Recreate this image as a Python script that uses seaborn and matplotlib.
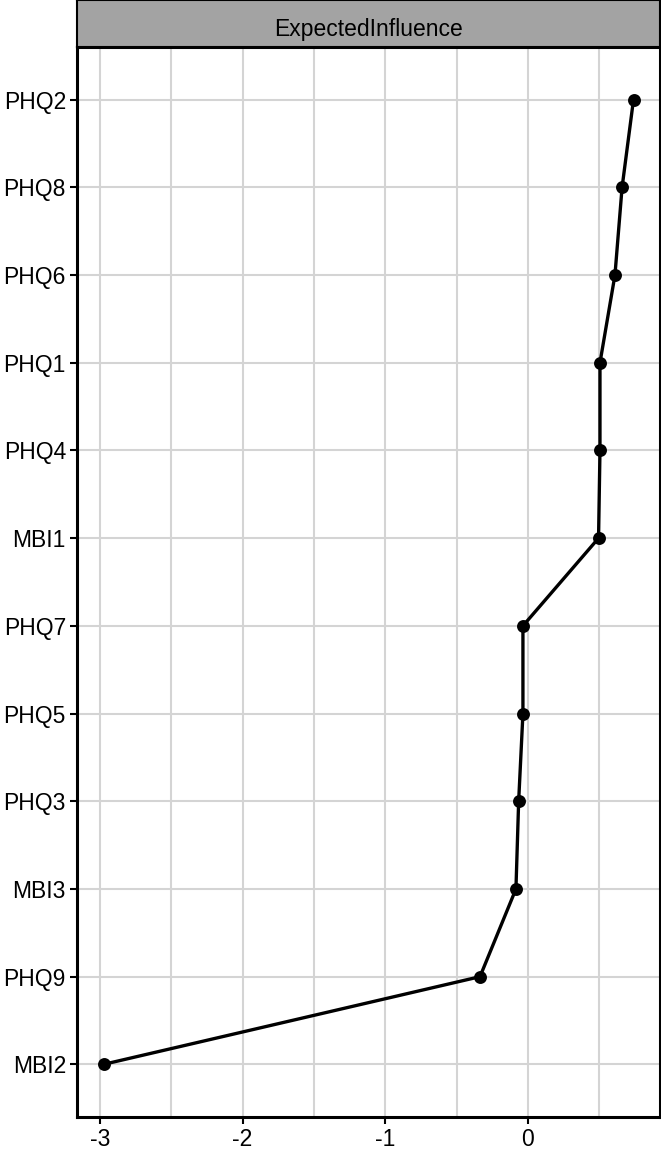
import numpy as np
import matplotlib
matplotlib.use("Agg")
import matplotlib.pyplot as plt
import pandas as pd
import seaborn as sns

# data ===========================================================================
nodes = ['PHQ2', 'PHQ8', 'PHQ6', 'PHQ1', 'PHQ4', 'MBI1',
         'PHQ7', 'PHQ5', 'PHQ3', 'MBI3', 'PHQ9', 'MBI2']
expected_influence = [0.74, 0.66, 0.61, 0.505, 0.505, 0.495,
                      -0.035, -0.035, -0.065, -0.084, -0.336, -2.975]
x_ticks = [-3, -2, -1, 0]
minor_ticks = [-2.5, -1.5, -0.5, 0.5]
strip_title = 'ExpectedInfluence'

df = pd.DataFrame({'node': nodes, 'value': expected_influence})

# figure ===========================================================================
sns.set_style('white')
plt.rcParams['font.family'] = ['Liberation Sans', 'DejaVu Sans']

W, H = 661, 1151
fig = plt.figure(figsize=(W / 100, H / 100), dpi=100)
left, right, top, bottom = 77, 660, 47, 1117
ax = fig.add_axes([left / W, 1 - bottom / H, (right - left) / W, (bottom - top) / H])

sns.pointplot(data=df, x='value', y='node', order=nodes, color='black',
              markers='o', markersize=7.5, linewidth=2.4, ax=ax, zorder=3)

vmin, vmax = min(expected_influence), max(expected_influence)
pad = 0.05 * (vmax - vmin)
ax.set_xlim(vmin - pad, vmax + pad)
ax.set_ylim(len(nodes) - 0.4, -0.6)

ax.set_xticks(x_ticks)
ax.set_xticks(minor_ticks, minor=True)
ax.set_xticklabels([str(t) for t in x_ticks])
ax.grid(True, which='both', axis='x', color='#d4d4d4', linewidth=1.5, zorder=0)
ax.grid(True, which='major', axis='y', color='#d4d4d4', linewidth=1.5, zorder=0)
ax.set_axisbelow(True)
ax.set_xlabel('')
ax.set_ylabel('')
ax.tick_params(axis='both', which='major', length=5, width=1.5, color='black',
               labelsize=16.5, labelcolor='black', pad=3, left=True, bottom=True)
ax.tick_params(axis='x', which='minor', length=0)
for s in ax.spines.values():
    s.set_color('black')
    s.set_linewidth(2.2)

# strip ===========================================================================
sax = fig.add_axes([left / W, 1 - top / H, (right - left) / W, top / H])
sax.set_facecolor('#a3a3a3')
sax.set_xticks([])
sax.set_yticks([])
for s in sax.spines.values():
    s.set_color('black')
    s.set_linewidth(1.5)
sax.text(0.5, 0.38, strip_title, ha='center', va='center', fontsize=16.5,
         color='black', transform=sax.transAxes)

fig.savefig('out.png', dpi=100)
